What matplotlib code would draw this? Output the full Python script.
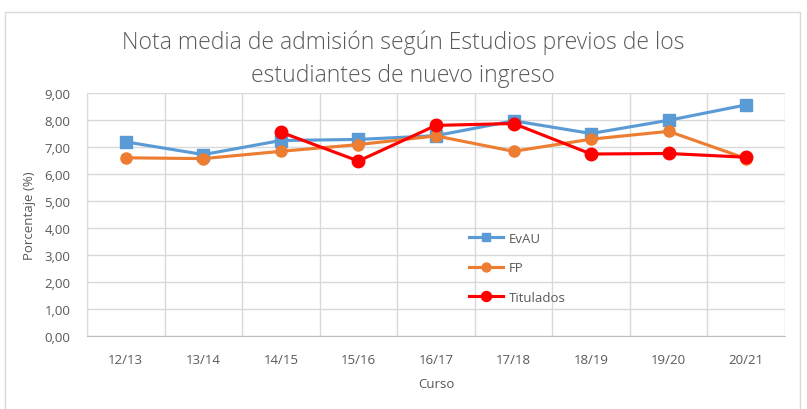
import matplotlib
matplotlib.use("Agg")
import matplotlib.pyplot as plt
from matplotlib.ticker import FuncFormatter, FixedLocator
from matplotlib.patches import Rectangle
import numpy as np

cursos = ["12/13", "13/14", "14/15", "15/16", "16/17", "17/18", "18/19", "19/20", "20/21"]
evau = [7.19, 6.72, 7.24, 7.28, 7.42, 7.97, 7.50, 7.99, 8.56]
fp = [6.60, 6.57, 6.84, 7.09, 7.41, 6.84, 7.29, 7.58, 6.57]
titulados = [np.nan, np.nan, 7.55, 6.48, 7.80, 7.87, 6.74, 6.76, 6.62]

GRAY = "#595959"
GRID = "#d9d9d9"

plt.rcParams["font.family"] = ["Open Sans", "DejaVu Sans"]

fig = plt.figure(figsize=(8.07, 4.10), dpi=100)
W, H = 807, 410
ax = fig.add_axes([87 / W, 1 - 337 / H, (785 - 87) / W, (337 - 94) / H])

# outer chart frame
fig.add_artist(Rectangle((5 / W, -0.01), 795 / W, 1 - 13 / H + 0.01,
                         transform=fig.transFigure, fill=False,
                         edgecolor="#d9d9d9", linewidth=1))

x = np.arange(len(cursos))
ax.plot(x, evau, color="#5B9BD5", lw=2.25, marker="s", ms=8, label="EvAU", zorder=3)
ax.plot(x, fp, color="#ED7D31", lw=2.25, marker="o", ms=8, label="FP", zorder=4)
ax.plot(x, titulados, color="#FF0000", lw=2.25, marker="o", ms=9, label="Titulados", zorder=5)

ax.set_xlim(-0.5, len(cursos) - 0.5)
ax.set_ylim(0, 9)
ax.set_yticks(np.arange(0, 10, 1))
ax.yaxis.set_major_formatter(FuncFormatter(lambda v, p: f"{v:.2f}".replace(".", ",")))
ax.set_xticks(x)
ax.set_xticklabels(cursos)
ax.xaxis.set_minor_locator(FixedLocator(np.arange(-0.5, len(cursos), 1)))

ax.grid(axis="y", which="major", color=GRID, lw=1)
ax.grid(axis="x", which="minor", color=GRID, lw=1)
ax.set_axisbelow(True)
for s in ["top", "right"]:
    ax.spines[s].set_visible(False)
ax.spines["left"].set_color(GRID)
ax.spines["bottom"].set_color("#bfbfbf")
ax.tick_params(axis="both", which="both", length=0, colors=GRAY, labelsize=9.5)
ax.tick_params(axis="x", pad=12)
ax.tick_params(axis="y", pad=12)

ax.set_xlabel("Curso", color=GRAY, fontsize=9.5, labelpad=8)
ax.set_ylabel("Porcentaje (%)", color=GRAY, fontsize=9.5, labelpad=6)

fig.text(403 / W, 1 - 59 / H,
         "Nota media de admisión según Estudios previos de los\nestudiantes de nuevo ingreso",
         ha="center", va="center", fontsize=16.5, color=GRAY, linespacing=1.5,
         fontweight="light")

leg = ax.legend(loc="upper left", bbox_to_anchor=(0.53, 0.477), frameon=False,
                fontsize=9.5, handlelength=2.6, labelspacing=1.25, handletextpad=0.4,
                markerscale=0.8)
for t in leg.get_texts():
    t.set_color(GRAY)

fig.savefig("out.png", dpi=100)
